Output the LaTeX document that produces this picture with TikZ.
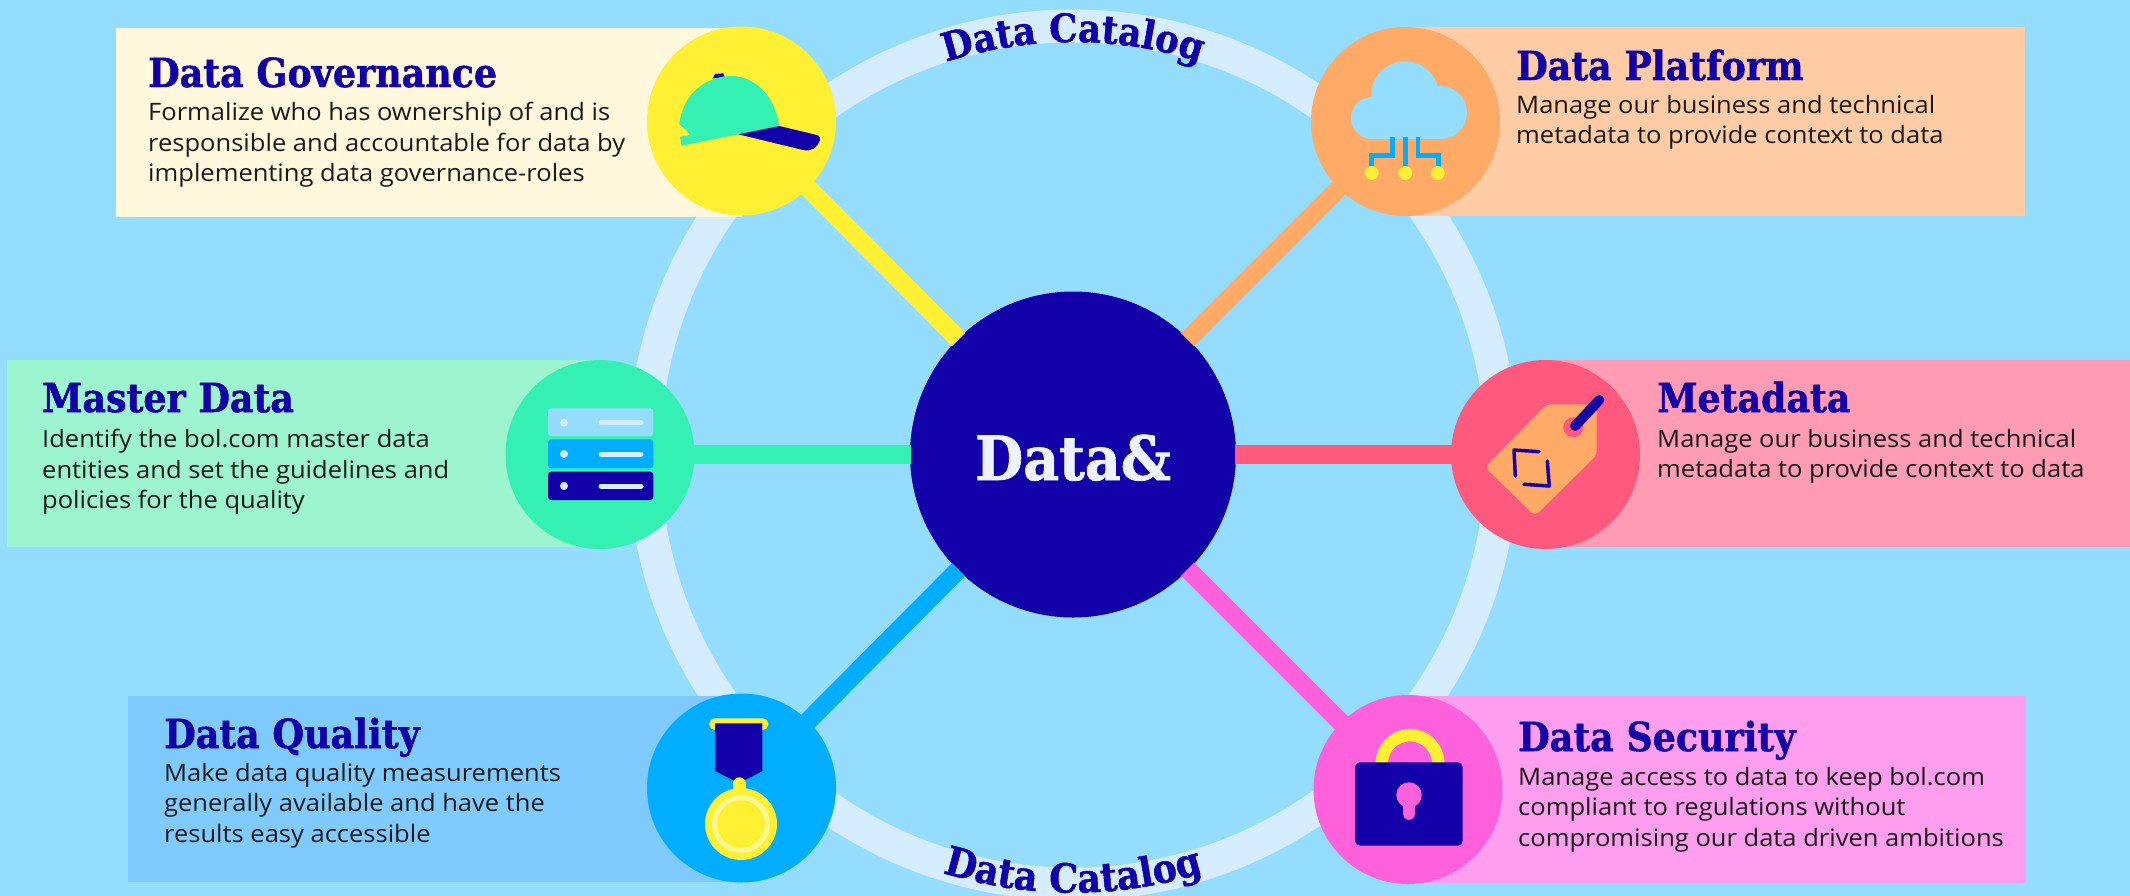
\documentclass[tikz,border=0pt]{standalone}
\usepackage{fontspec}
\usetikzlibrary{decorations.text}
\setmainfont{Open Sans}
\newfontfamily\slabfont[FakeStretch=0.91,BoldFeatures={FakeBold=1.2}]{DejaVu Serif}
\newfontfamily\copyfont[FakeStretch=1.063]{Open Sans}
\definecolor{bgblue}{HTML}{95DDFF}
\definecolor{ringblue}{HTML}{D6ECFF}
\definecolor{navy}{HTML}{1200A8}
\definecolor{hatyellow}{HTML}{FFF033}
\definecolor{teal}{HTML}{35F0B3}
\definecolor{orange}{HTML}{FFAA66}
\definecolor{rose}{HTML}{FF5A7D}
\definecolor{azure}{HTML}{00ADFF}
\definecolor{magenta}{HTML}{FF60DC}
\definecolor{creambox}{HTML}{FFF8DC}
\definecolor{peachbox}{HTML}{FFCCA6}
\definecolor{mintbox}{HTML}{9DF5D0}
\definecolor{rosebox}{HTML}{FF9BB3}
\definecolor{bluebox}{HTML}{7FCBFF}
\definecolor{pinkbox}{HTML}{FF9DEE}
\definecolor{inktext}{HTML}{1A1A1A}
\definecolor{corewhite}{HTML}{EEF4FF}
\tikzset{
  hub/.style={circle,inner sep=0pt,minimum size=189pt,fill=#1},
  panel/.style={rectangle,inner sep=0pt,anchor=north west,fill=#1},
  spoke/.style={line width=18.5pt,draw=#1,shorten <=-1pt,shorten >=-1pt},
  headtext/.style={anchor=base west,inner sep=0pt,text=navy,font=\slabfont\bfseries\fontsize{40}{40}\selectfont},
  bodytext/.style={anchor=north west,inner sep=0pt,align=left,text=inktext,font=\copyfont\fontsize{24}{30.5}\selectfont},
}
\begin{document}
\begin{tikzpicture}[x=1pt,y=-1pt]
\useasboundingbox (0,0) rectangle (2130,895);
\clip (0,-1) rectangle (2130,899);
\fill[bgblue] (0,-1) rectangle (2130,899);
% ring
\coordinate (mid) at (1073,455);
\draw[ringblue,line width=33pt] (mid) circle[radius=429pt];
% curved labels
\begin{pgfinterruptboundingbox}
\path[decorate,decoration={text along path,text align=center,
  text={|\slabfont\bfseries\fontsize{39}{39}\selectfont\color{navy}|Data Catalog}}]
  (931.7,66.9) .. controls (1022.9,33.7) and (1123.1,33.7) .. (1214.3,66.9);
\path[decorate,decoration={text along path,text align=center,
  text={|\slabfont\bfseries\fontsize{40}{40}\selectfont\color{navy}|Data Catalog}}]
  (922.5,866) .. controls (1019.7,901.4) and (1126.3,901.4) .. (1223.5,866);
\end{pgfinterruptboundingbox}
% panels
\node[panel=creambox,minimum width=626pt,minimum height=189pt] (govbox) at (116,28) {};
\node[panel=peachbox,minimum width=620pt,minimum height=189pt] (platbox) at (1405,27) {};
\node[panel=mintbox,minimum width=593pt,minimum height=187pt] (mastbox) at (7,360) {};
\node[panel=rosebox,minimum width=585pt,minimum height=187pt] (metabox) at (1545,360) {};
\node[panel=bluebox,minimum width=613pt,minimum height=186pt] (qualbox) at (128,696) {};
\node[panel=pinkbox,minimum width=618pt,minimum height=187pt] (secbox) at (1408,696) {};
% hubs
\node[hub=hatyellow] (gov) at (741.5,121) {};
\node[hub=orange] (plat) at (1405.5,121.5) {};
\node[hub=teal] (mast) at (600,454.5) {};
\node[hub=rose] (meta) at (1545.5,454.5) {};
\node[hub=azure] (qual) at (741.5,788) {};
\node[hub=magenta] (sec) at (1408,789.5) {};
\node[circle,inner sep=0pt,minimum size=326pt,fill=navy] (core) at (1073,454.5) {};
\node[anchor=base,inner sep=0pt,text=corewhite,font=\slabfont\bfseries\fontsize{61}{61}\selectfont] (coretext) at (1073,480) {Data\&};
% spokes
\draw[spoke=hatyellow] (gov) -- (core);
\draw[spoke=orange] (plat) -- (core);
\draw[spoke=teal] (mast) -- (core);
\draw[spoke=rose] (meta) -- (core);
\draw[spoke=azure] (qual) -- (core);
\draw[spoke=magenta] (sec) -- (core);
% texts
\node[headtext] (govh) at (148,87) {Data Governance};
\node[bodytext] (govb) at (148,102) {Formalize who has ownership of and is\\responsible and accountable for data by\\implementing data governance-roles};
\node[headtext] (plath) at (1516,80) {Data Platform};
\node[bodytext] (platb) at (1516,95) {Manage our business and technical\\metadata to provide context to data};
\node[headtext] (masth) at (42,412) {Master Data};
\node[bodytext] (mastb) at (42,429) {Identify the bol.com master data\\entities and set the guidelines and\\policies for the quality};
\node[headtext] (metah) at (1657,412) {Metadata};
\node[bodytext] (metab) at (1657,429) {Manage our business and technical\\metadata to provide context to data};
\node[headtext] (qualh) at (164,748) {Data Quality};
\node[bodytext] (qualb) at (164,763) {Make data quality measurements\\generally available and have the\\results easy accessible};
\node[headtext] (sech) at (1518,751) {Data Security};
\node[bodytext] (secb) at (1518,767) {Manage access to data to keep bol.com\\compliant to regulations without\\compromising our data driven ambitions};
% hat icon
\fill[navy] (712.7,78.3) -- (715,74) -- (723.3,73.3) -- (725,78) -- cycle;
\fill[teal] (679.3,124) .. controls (683,92) and (708,76) .. (731,76) .. controls (755,76) and (775,96) .. (779.3,126) -- (738.3,134.3) -- (681.7,145.7) -- (680,136.7) -- (690,135) .. controls (686,129) and (682,127) .. cycle;
\fill[navy] (738.3,134.3) -- (779.3,126) -- (816.7,135) .. controls (820,136) and (820.5,138) .. (820,140) .. controls (817,148) and (811,152) .. (803,150) -- cycle;
% cloud icon
\fill[bgblue] (1372,118) circle[radius=21pt] (1440.5,112.5) circle[radius=26.5pt] (1405,95) circle[radius=33.7pt];
\fill[bgblue] (1372,100) rectangle (1441,139);
\draw[azure,line width=4.5pt] (1405.3,137) -- (1405.3,167);
\draw[azure,line width=4.5pt] (1392.7,137) -- (1392.7,155.7) -- (1371.7,155.7) -- (1371.7,167);
\draw[azure,line width=4.5pt] (1418,137) -- (1418,155.7) -- (1438.3,155.7) -- (1438.3,167);
\fill[hatyellow] (1371.7,173) circle[radius=7pt] (1405.3,173) circle[radius=7pt] (1437.7,173) circle[radius=7pt];
% server icon
\fill[bgblue,rounded corners=3pt] (548,408.3) rectangle (653.3,436);
\fill[azure,rounded corners=3pt] (548,439.3) rectangle (653.3,468.3);
\fill[navy,rounded corners=3pt] (548,471.7) rectangle (653.3,500);
\fill[ringblue] (564,422.7) circle[radius=4pt] (564,454) circle[radius=4pt] (564,486) circle[radius=4pt];
\draw[ringblue,line width=5pt,line cap=round] (601,422.7) -- (641,422.7) (601,454) -- (641,454) (601,486) -- (641,486);
% tag icon
\fill[orange,rounded corners=5pt] (1546.7,404.3) -- (1596.7,404.3) -- (1596.7,455) -- (1535,516) -- (1485,467.3) -- cycle;
\fill[rose] (1573.3,427.3) circle[radius=10pt];
\draw[navy,line width=10pt,line cap=round] (1575,426) -- (1599.3,400);
\draw[navy,line width=3.5pt,line cap=round,line join=round] (1539,451.7) -- (1514,450) -- (1515.3,476);
\draw[navy,line width=3.5pt,line cap=round,line join=round] (1524,484.3) -- (1549.3,486) -- (1547.3,461);
% medal icon
\fill[hatyellow,rounded corners=5.5pt] (709.3,718.3) rectangle (768.3,730);
\fill[navy] (715,723.3) -- (762.3,723.3) -- (762.3,771) -- (739.3,783.3) -- (715,771) -- cycle;
\draw[hatyellow,line width=12.4pt,line cap=round] (739.5,783.5) -- (739.5,796);
\fill[hatyellow] (741,824) circle[radius=36pt];
\draw[hatyellow!55!white,line width=5pt] (741,824) circle[radius=26.5pt];
% lock icon
\draw[hatyellow,line width=12.4pt] (1410,763.3) circle[radius=28.2pt];
\fill[navy,rounded corners=5pt] (1355,762.3) rectangle (1462.7,845.7);
\fill[magenta] (1409,795) circle[radius=12.7pt];
\draw[magenta,line width=12.7pt,line cap=round] (1409,795) -- (1409,813.5);
\end{tikzpicture}
\end{document}
